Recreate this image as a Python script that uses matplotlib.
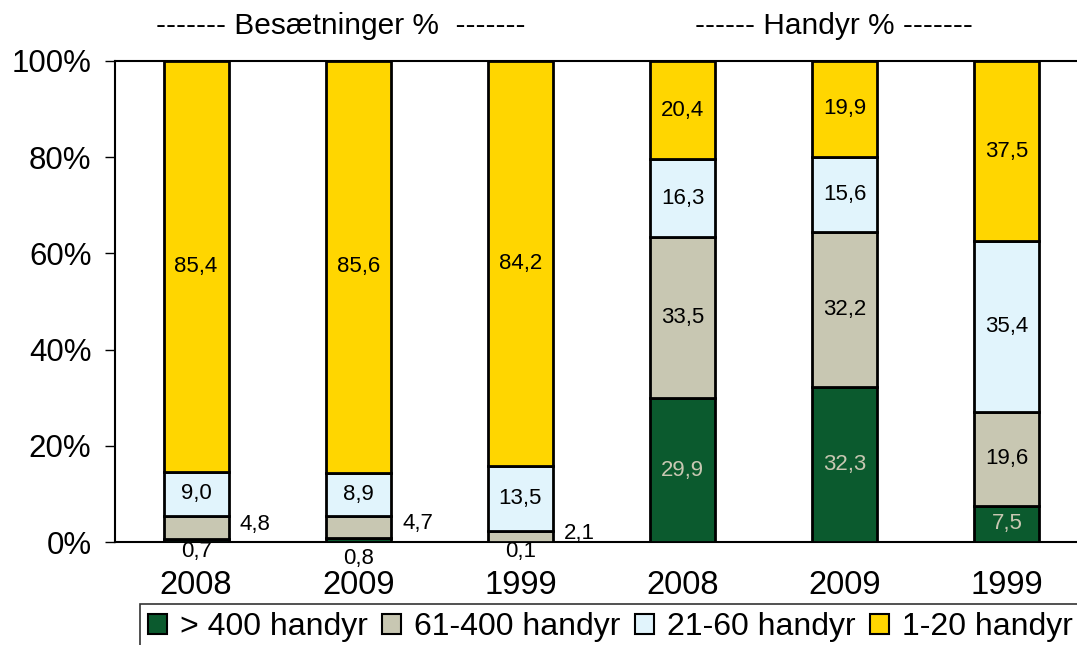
import matplotlib
matplotlib.use("Agg")
import matplotlib.pyplot as plt
import numpy as np
from matplotlib.patches import Patch

plt.rcParams['font.family'] = ['Liberation Sans', 'DejaVu Sans']

categories = ["2008", "2009", "1999", "2008", "2009", "1999"]
series_names = ["> 400 handyr", "61-400 handyr", "21-60 handyr", "1-20 handyr"]
s_over400 = [0.7, 0.8, 0.1, 29.9, 32.3, 7.5]
s_61_400 = [4.8, 4.7, 2.1, 33.5, 32.2, 19.6]
s_21_60 = [9.0, 8.9, 13.5, 16.3, 15.6, 35.4]
s_1_20 = [85.4, 85.6, 84.2, 20.4, 19.9, 37.5]
group_titles = ["------- Besætninger %  -------", "------ Handyr % -------"]

colors = ["#0b5a2e", "#c8c7b2", "#e1f4fc", "#ffd600"]
text_colors = ["#c8c7b2", "black", "black", "black"]

data = np.array([s_over400, s_61_400, s_21_60, s_1_20])
totals = data.sum(axis=0)
pct = data / totals * 100

W, H = 1077, 645
fig = plt.figure(figsize=(W / 100, H / 100), dpi=100)
ax = fig.add_axes([115 / W, (H - 542) / H, (1088 - 115) / W, 481 / H])

lab_fs = 16
x = np.arange(len(categories))
bottom = np.zeros(len(categories))
for i in range(4):
    ax.bar(x, pct[i], 0.4, bottom=bottom, color=colors[i], edgecolor="black",
           linewidth=2, zorder=3)
    for j in range(len(categories)):
        v = data[i, j]
        lbl = f"{v:.1f}".replace(".", ",")
        if pct[i, j] >= 7:
            ax.text(x[j], bottom[j] + pct[i, j] / 2, lbl, ha="center", va="center",
                    fontsize=lab_fs, color=text_colors[i], zorder=4)
        elif i == 1:
            ax.text(x[j] + 0.27, bottom[j] + pct[i, j] / 2 + 0.6, lbl, ha="left",
                    va="center", fontsize=lab_fs, color="black", zorder=4)
        else:
            off = -1.9 if j != 1 else -3.4
            ax.text(x[j], off, lbl, ha="center", va="center",
                    fontsize=lab_fs, color="black", zorder=4, clip_on=False)
    bottom += pct[i]

ax.set_xlim(-0.5, 5.5)
ax.set_ylim(0, 100)
ax.set_yticks(np.arange(0, 101, 20))
ax.set_yticklabels([f"{v}%" for v in range(0, 101, 20)], fontsize=22.5)
ax.set_xticks(x)
ax.set_xticklabels(categories, fontsize=23.5)
ax.tick_params(axis="x", length=0, pad=20)
ax.tick_params(axis="y", length=7, width=1, direction="out", pad=10)
for s in ax.spines.values():
    s.set_linewidth(1.5)
    s.set_color("black")

fig.text(341 / W, 1 - 26 / H, group_titles[0], ha="center", va="center", fontsize=21.5)
fig.text(834 / W, 1 - 26 / H, group_titles[1], ha="center", va="center", fontsize=21.5)

handles = [Patch(facecolor=c, edgecolor="black", linewidth=1.5) for c in colors]
leg = fig.legend(handles, series_names, loc="upper left", bbox_to_anchor=(140 / W, 1 - 604 / H),
                 ncol=4, fontsize=23, frameon=True, fancybox=False, edgecolor="black",
                 handlelength=0.6, handleheight=0.6, handletextpad=0.4, columnspacing=0.45,
                 borderpad=0.25, borderaxespad=0)
leg.get_frame().set_linewidth(1.2)

fig.savefig("out.png", dpi=100)
